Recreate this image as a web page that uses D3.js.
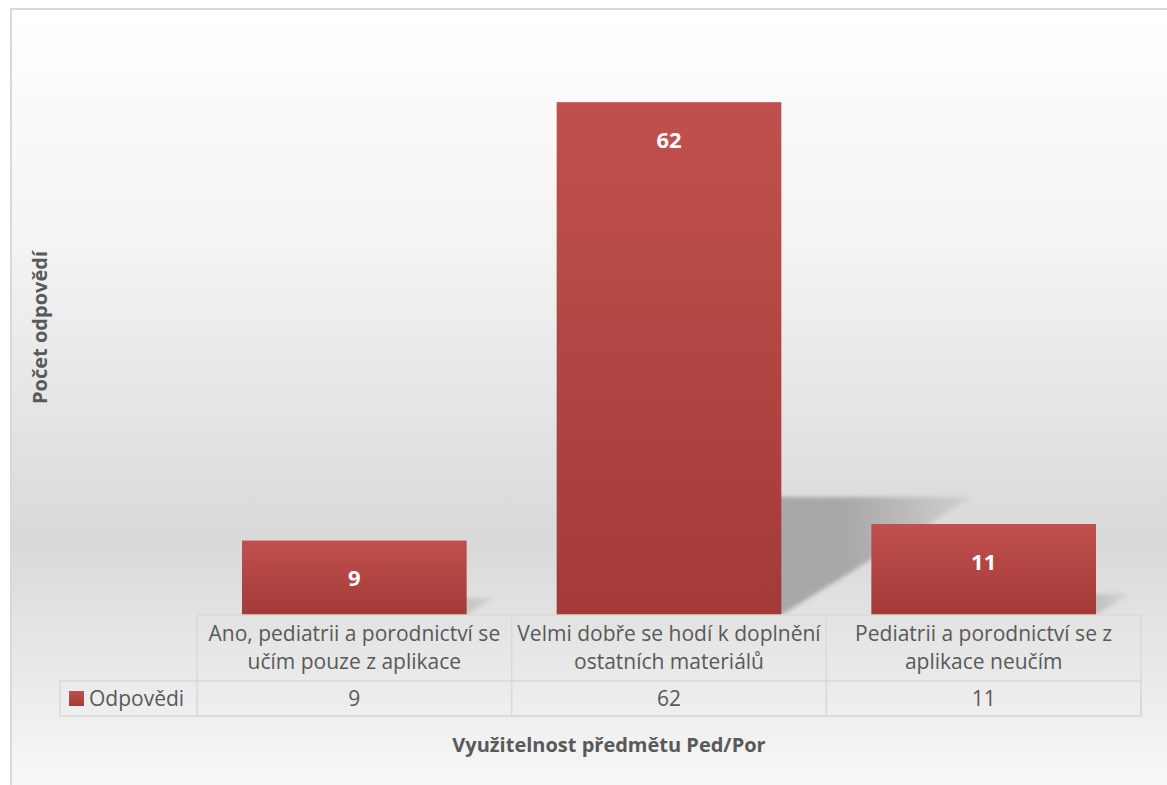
<!DOCTYPE html>
<html>
<head>
<meta charset="utf-8">
<script src="https://cdn.jsdelivr.net/npm/d3@7"></script>
<style>
  html, body { margin: 0; padding: 0; background: #fff; }
  svg { display: block; }
</style>
</head>
<body>
<div id="graph"></div>
<script>
// data
const categories = [
  ['Ano, pediatrii a porodnictví se', 'učím pouze z aplikace'],
  ['Velmi dobře se hodí k doplnění', 'ostatních materiálů'],
  ['Pediatrii a porodnictví se z', 'aplikace neučím'],
];
const values = [9, 62, 11];
const seriesName = 'Odpovědi';
const yTitle = 'Počet odpovědí';
const xTitle = 'Využitelnost předmětu Ped/Por';

const width = 1167;
const height = 785;
const colors = {
  text: '#595959',
  grid: '#d9d9d9',
  barTop: '#c0504d',
  barBottom: '#a33a38',
  shadow: '#a6a6a6',
};
const font = '"Open Sans", "Noto Sans", sans-serif';

const plot = { left: 197, right: 1141, top: 36, bottom: 615 };
const table = { left: 60, headerBottom: 681, bottom: 716 };

const svg = d3.select('#graph')
  .append('svg')
  .attr('width', width)
  .attr('height', height);

const defs = svg.append('defs');

// chart background gradient
const bg = defs.append('linearGradient')
  .attr('id', 'bg')
  .attr('x1', 0).attr('y1', 0).attr('x2', 0).attr('y2', 1);
[[0, '#ffffff'], [0.3, '#f3f3f3'], [0.66, '#d9d9d9'], [1, '#fbfbfb']]
  .forEach(([o, c]) => bg.append('stop').attr('offset', o).attr('stop-color', c));

const barGrad = defs.append('linearGradient')
  .attr('id', 'bar')
  .attr('x1', 0).attr('y1', 0).attr('x2', 0).attr('y2', 1);
barGrad.append('stop').attr('offset', 0).attr('stop-color', colors.barTop);
barGrad.append('stop').attr('offset', 1).attr('stop-color', colors.barBottom);

const shadowGrad = defs.append('linearGradient')
  .attr('id', 'shadow')
  .attr('x1', 0).attr('y1', 0).attr('x2', 1).attr('y2', 0);
shadowGrad.append('stop').attr('offset', 0).attr('stop-color', colors.shadow).attr('stop-opacity', 1);
shadowGrad.append('stop').attr('offset', 0.7).attr('stop-color', colors.shadow).attr('stop-opacity', 0.95);
shadowGrad.append('stop').attr('offset', 1).attr('stop-color', colors.shadow).attr('stop-opacity', 0.2);

defs.append('filter')
  .attr('id', 'blur')
  .attr('x', '-10%').attr('y', '-20%').attr('width', '120%').attr('height', '140%')
  .append('feGaussianBlur')
  .attr('stdDeviation', 2);

defs.append('clipPath')
  .attr('id', 'plotClip')
  .append('rect')
  .attr('x', 0).attr('y', 0)
  .attr('width', width).attr('height', plot.bottom);

// background + border
svg.append('rect')
  .attr('x', 11).attr('y', 9)
  .attr('width', width + 20).attr('height', height + 20)
  .attr('fill', 'url(#bg)')
  .attr('stroke', colors.grid)
  .attr('stroke-width', 2);

// scales
const x = d3.scaleBand()
  .domain(d3.range(categories.length))
  .range([plot.left, plot.right])
  .paddingInner(0.286)
  .paddingOuter(0.143);

const y = d3.scaleLinear()
  .domain([0, 70])
  .range([plot.bottom, plot.top]);

// perspective shadows
const shadowRatio = 0.23;
const shadowSkew = 1.62;
svg.append('g')
  .attr('clip-path', 'url(#plotClip)')
  .selectAll('polygon')
  .data(values)
  .join('polygon')
  .attr('points', (d, i) => {
    const x0 = x(i);
    const x1 = x0 + x.bandwidth();
    const base = y(0);
    const sh = (y(0) - y(d)) * shadowRatio;
    const shift = sh * shadowSkew;
    return [[x0, base], [x1, base], [x1 + shift, base - sh], [x0 + shift, base - sh]].join(' ');
  })
  .attr('fill', 'url(#shadow)')
  .attr('filter', 'url(#blur)');

// bars
svg.append('g')
  .selectAll('rect')
  .data(values)
  .join('rect')
  .attr('x', (d, i) => x(i))
  .attr('y', (d) => y(d))
  .attr('width', x.bandwidth())
  .attr('height', (d) => y(0) - y(d))
  .attr('fill', 'url(#bar)');

// data labels
svg.append('g')
  .selectAll('text')
  .data(values)
  .join('text')
  .attr('x', (d, i) => x(i) + x.bandwidth() / 2)
  .attr('y', (d) => y(d) + 38)
  .attr('dy', '0.35em')
  .attr('text-anchor', 'middle')
  .attr('fill', '#fff')
  .attr('font-family', font)
  .attr('font-weight', 'bold')
  .attr('font-size', 22)
  .text((d) => d);

// data table
const grid = svg.append('g')
  .attr('stroke', colors.grid)
  .attr('stroke-width', 1.5)
  .attr('fill', 'none');

grid.append('rect')
  .attr('x', plot.left).attr('y', plot.bottom)
  .attr('width', plot.right - plot.left)
  .attr('height', table.bottom - plot.bottom);
grid.append('rect')
  .attr('x', table.left).attr('y', table.headerBottom)
  .attr('width', plot.right - table.left)
  .attr('height', table.bottom - table.headerBottom);
grid.selectAll('line.col')
  .data(d3.range(1, categories.length))
  .join('line')
  .attr('class', 'col')
  .attr('x1', (i) => plot.left + i * x.step())
  .attr('x2', (i) => plot.left + i * x.step())
  .attr('y1', plot.bottom)
  .attr('y2', table.bottom);

const catText = svg.append('g')
  .attr('font-family', font)
  .attr('font-size', 21)
  .attr('fill', colors.text)
  .attr('text-anchor', 'middle');

catText.selectAll('text')
  .data(categories)
  .join('text')
  .attr('x', (d, i) => x(i) + x.bandwidth() / 2)
  .attr('y', 634)
  .selectAll('tspan')
  .data((d) => d)
  .join('tspan')
  .attr('x', function () { return this.parentNode.getAttribute('x'); })
  .attr('dy', (d, j) => (j === 0 ? '0.35em' : 28))
  .text((d) => d);

catText.append('g')
  .selectAll('text')
  .data(values)
  .join('text')
  .attr('x', (d, i) => x(i) + x.bandwidth() / 2)
  .attr('y', (table.headerBottom + table.bottom) / 2)
  .attr('dy', '0.35em')
  .text((d) => d);

// legend key in row header
svg.append('rect')
  .attr('x', 69).attr('y', 691)
  .attr('width', 15).attr('height', 15)
  .attr('fill', 'url(#bar)');
svg.append('text')
  .attr('x', 89)
  .attr('y', (table.headerBottom + table.bottom) / 2)
  .attr('dy', '0.35em')
  .attr('font-family', font)
  .attr('font-size', 21)
  .attr('fill', colors.text)
  .text(seriesName);

// axis titles
svg.append('text')
  .attr('transform', `translate(40, ${(plot.top + plot.bottom) / 2 + 2}) rotate(-90)`)
  .attr('dy', '0.35em')
  .attr('text-anchor', 'middle')
  .attr('font-family', font)
  .attr('font-weight', 'bold')
  .attr('font-size', 20)
  .attr('fill', colors.text)
  .text(yTitle);

svg.append('text')
  .attr('x', 609)
  .attr('y', 745)
  .attr('dy', '0.35em')
  .attr('text-anchor', 'middle')
  .attr('font-family', font)
  .attr('font-weight', 'bold')
  .attr('font-size', 20)
  .attr('fill', colors.text)
  .text(xTitle);
</script>
</body>
</html>
